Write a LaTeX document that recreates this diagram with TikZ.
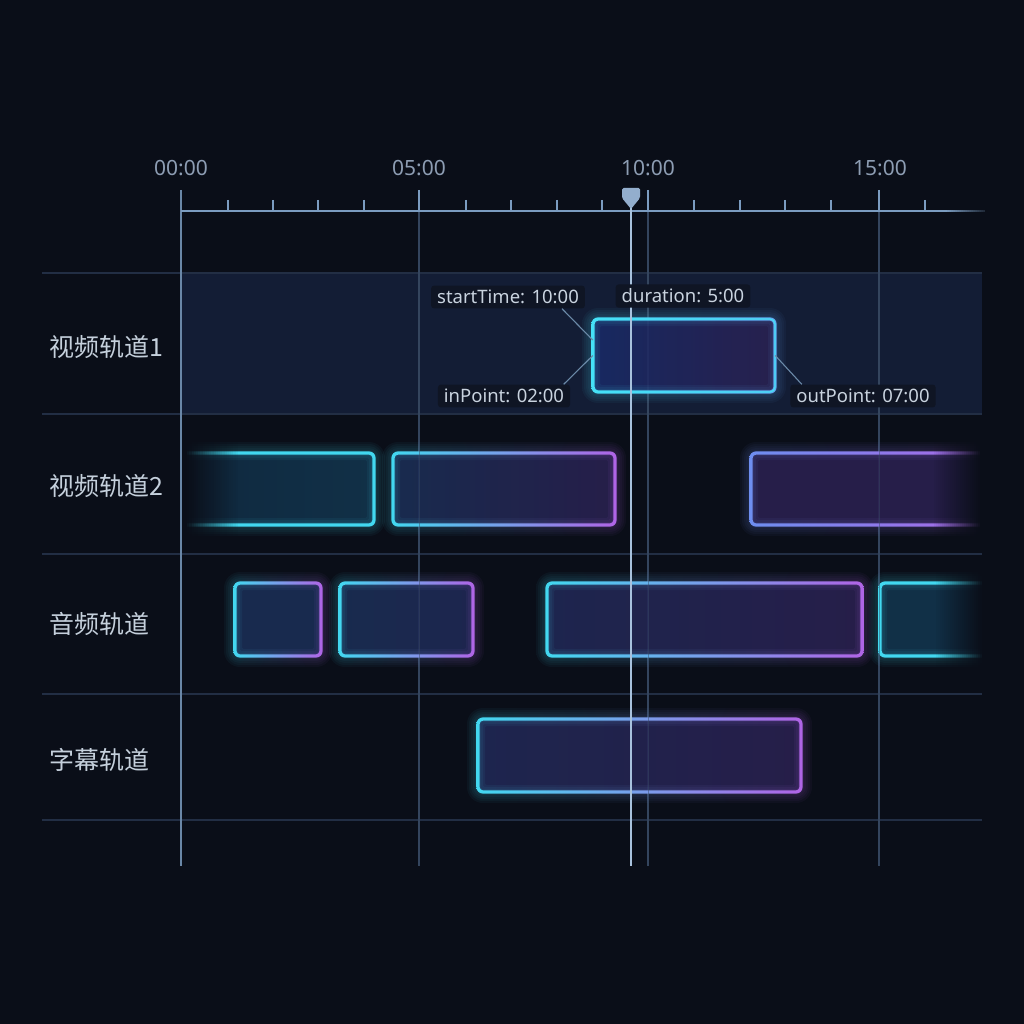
\documentclass[tikz,border=0pt]{standalone}
\usepackage{fontspec}
\setmainfont{Noto Sans}
\newfontfamily\cjk{Noto Sans CJK SC}
\usetikzlibrary{calc}
\definecolor{bgc}{HTML}{0A0E18}
\definecolor{rowhi}{HTML}{131D35}
\definecolor{sepc}{HTML}{222E44}
\definecolor{gridc}{HTML}{34455E}
\definecolor{axisc}{HTML}{7B9CC0}
\definecolor{playc}{HTML}{A8C2DD}
\definecolor{markc}{HTML}{93AECD}
\definecolor{timec}{HTML}{8D9DB3}
\definecolor{labc}{HTML}{C5D0DC}
\definecolor{calbg}{HTML}{0F1524}
\definecolor{caltx}{HTML}{C9D3DF}
\definecolor{leadc}{HTML}{6B8AA8}
\definecolor{cyanB}{HTML}{42D8F0}
\definecolor{cyanS}{HTML}{45E2F7}
\definecolor{blueB}{HTML}{6E8EF0}
\definecolor{purpB}{HTML}{B064E6}
\definecolor{fTeal}{HTML}{133650}
\definecolor{fBlue}{HTML}{1B3058}
\definecolor{fBlueP}{HTML}{212A58}
\definecolor{fPurp}{HTML}{2B2152}
\tikzset{
  x=1pt, y=-1pt,
  timelab/.style={text=timec, font=\fontsize{21}{25}\selectfont},
  tracklab/.style={text=labc, anchor=west, font=\cjk\fontsize{25}{30}\selectfont},
  callout/.style={fill=calbg, rounded corners=3pt, text=caltx, inner xsep=6pt, inner ysep=4.5pt, font=\fontsize{18.5}{22}\selectfont},
  leader/.style={draw=leadc, line width=1.1pt},
  sepline/.style={draw=sepc, line width=1.5pt},
  gridline/.style={draw=gridc, line width=1.2pt},
  minortick/.style={draw=axisc, line width=1.2pt},
}
% x1 y1 x2 y2 borderL borderR fillL fillR
\newcommand\tlbox[8]{%
  \foreach \g in {3,5,7,9,11}{
    \shade[left color=#5, right color=#6, fill opacity=0.045, even odd rule, rounded corners=5+\g]
      (#1-\g,#2-\g) rectangle (#3+\g,#4+\g) [rounded corners=4] (#1+1,#2+1) rectangle (#3-1,#4-1);
  }
  \shade[left color=#7, right color=#8, fill opacity=0.85, rounded corners=5]
    (#1,#2) rectangle (#3,#4);
  \foreach \g in {3,5,7}{
    \shade[left color=#5, right color=#6, fill opacity=0.06, even odd rule, rounded corners=4]
      (#1+1,#2+1) rectangle (#3-1,#4-1) [rounded corners=2] (#1+\g,#2+\g) rectangle (#3-\g,#4-\g);
  }
  \shade[left color=#5, right color=#6, even odd rule, rounded corners=6.5]
    (#1-1.6,#2-1.6) rectangle (#3+1.6,#4+1.6) [rounded corners=3.5] (#1+1.6,#2+1.6) rectangle (#3-1.6,#4-1.6);
}
\newcommand\fadeR[3]{% xstart ytop ybot : fade to background towards right
  \foreach \i in {0,...,24}{
    \fill[bgc, opacity=\i/24] ({#1+\i*2}, #2) rectangle ({#1+\i*2+2.05}, #3);
  }
  \fill[bgc] ({#1+50}, #2) rectangle (1000, #3);
}
\newcommand\fadeL[3]{% xend ytop ybot : fade from background at left
  \foreach \i in {0,...,24}{
    \fill[bgc, opacity=\i/24] ({#1-\i*2.2}, #2) rectangle ({#1-\i*2.2-2.25}, #3);
  }
  \fill[bgc] (183, #2) rectangle ({#1-24*2.2-2}, #3);
}
\begin{document}
\begin{tikzpicture}
\fill[bgc] (0,0) rectangle (1024,1024);
\useasboundingbox (0,0) rectangle (1024,1024);

% highlighted row
\fill[rowhi] (181,273) rectangle (982,414);

% separators
\foreach \y in {273,414,554,694,820}
  \draw[sepline] (42,\y) -- (982,\y);

% grid lines
\foreach \x in {419,648,879}
  \draw[gridline] (\x,211) -- (\x,866);
\draw[draw=axisc!85!bgc, line width=1.5pt] (181,190) -- (181,866);
\foreach \x in {419,648,879}
  \draw[draw=axisc, line width=1.5pt] (\x,190) -- (\x,211);

% axis
\draw[draw=axisc, line width=2pt] (181,211) -- (985,211);
\foreach \x in {228,273,318,364,466,511,557,602,694,740,785,831,925}
  \draw[minortick] (\x,200) -- (\x,211);
\fadeR{945}{206}{216}

% time labels
\node[timelab] (t0) at (181,168) {00:00};
\node[timelab] (t5) at (419,168) {05:00};
\node[timelab] (t10) at (648,168) {10:00};
\node[timelab] (t15) at (880,168) {15:00};

% track labels
\node[tracklab] (r1) at (46,347) {视频轨道1};
\node[tracklab] (r2) at (46,486) {视频轨道2};
\node[tracklab] (r3) at (46,624) {音频轨道};
\node[tracklab] (r4) at (46,760) {字幕轨道};

% row 1 selected clip
\tlbox{593}{319}{775}{392}{cyanS}{blueB!70!cyanS}{fBlue!90!blue}{fPurp}
\draw[draw=cyanS, line width=1.2pt, rounded corners=5] (593,319) rectangle (775,392);
\node[minimum width=182pt, minimum height=73pt, inner sep=0pt] (sel) at (684,355.5) {};

% row 2
\begin{scope}
  \clip (183,420) rectangle (1024,548);
  \tlbox{150}{453}{374}{525}{cyanB}{cyanB}{fTeal!80!bgc}{fTeal}
\end{scope}
\fadeL{240}{420}{548}
\tlbox{393}{453}{615}{525}{cyanB}{purpB}{fBlue}{fPurp}
\begin{scope}
  \clip (700,420) rectangle (984,548);
  \tlbox{751}{453}{1010}{525}{blueB}{purpB}{fPurp}{fPurp}
\end{scope}
\fadeR{932}{420}{548}

% row 3
\tlbox{235}{583}{321}{656}{cyanB}{purpB}{fBlue}{fBlue}
\tlbox{340}{583}{473}{656}{cyanB}{purpB}{fBlue}{fBlueP}
\tlbox{547}{583}{862}{656}{cyanB}{purpB}{fBlueP}{fPurp}
\begin{scope}
  \clip (866,560) rectangle (984,688);
  \tlbox{880}{583}{1010}{656}{cyanB}{cyanB}{fTeal}{fTeal}
\end{scope}
\fadeR{934}{560}{688}

% row 4
\tlbox{478}{719}{801}{792}{cyanB}{purpB}{fBlueP}{fPurp}

% faint grid over clips
\foreach \x in {419,648,879}
  \draw[draw=gridc, line width=1pt, opacity=0.45] (\x,440) -- (\x,810);

% playhead
\draw[draw=playc, line width=2pt] (631,206) -- (631,866);
\fill[markc, rounded corners=1.5pt] (622,188) -- (640,188) -- (640,198) -- (631,209) -- (622,198) -- cycle;

% callouts
\node[callout] (st) at (508,297) {startTime: 10:00};
\node[callout] (du) at (683,296) {duration: 5:00};
\node[callout] (ip) at (504,396) {inPoint: 02:00};
\node[callout] (op) at (863,396) {outPoint: 07:00};

\draw[leader] ($(st.south west)!0.85!(st.south east)$) -- ($(sel.north west)!0.29!(sel.south west)$);
\draw[leader] ($(ip.north west)!0.95!(ip.north east)$) -- (sel.west);
\draw[leader] ($(op.north west)!0.08!(op.north east)$) -- (sel.east);
\end{tikzpicture}
\end{document}
